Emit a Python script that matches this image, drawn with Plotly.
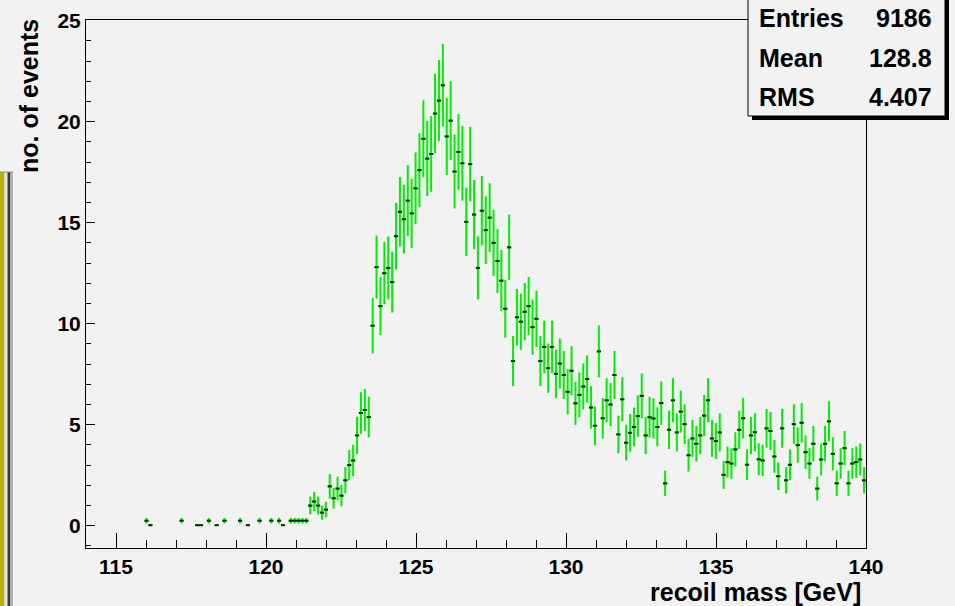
import plotly.graph_objects as go

# ---------------- data ----------------
bin_low = 114.0
bin_width = 0.13
counts = [
    0, 0, 0, 0, 0, 0, 0, 0, 0, 0,
    0, 0, 0, 0, 0, 0.25, 0.03, 0, 0, 0,
    0, 0, 0, 0, 0.25, 0, 0, 0, 0.03, 0.03,
    0, 0.25, 0, 0.03, 0, 0.25, 0, 0, 0, 0.25,
    0, 0.03, 0, 0, 0.25, 0, 0, 0.25, 0, 0.25,
    0.03, 0, 0.25, 0.25, 0.25, 0.25, 0.25, 1.0, 1.2, 1.0,
    0.65, 0.8, 1.95, 1.36, 1.84, 1.49, 2.25, 3.0, 3.23, 4.47,
    5.58, 5.73, 5.38, 9.9, 12.8, 10.87, 12.5, 12.76, 12.06, 14.33,
    15.54, 15.17, 16.09, 15.46, 16.7, 17.6, 19.15, 18.17, 18.4, 20.4,
    21.04, 21.8, 19.27, 20.05, 17.53, 18.5, 17.94, 15.04, 17.9, 15.4,
    12.76, 15.59, 14.63, 15.25, 14.0, 13.1, 12.13, 10.74, 13.78, 8.15,
    10.32, 10.1, 10.59, 10.87, 9.83, 10.24, 8.15, 8.85, 7.8, 8.85,
    7.52, 8.03, 7.46, 6.63, 7.67, 6.06, 6.48, 6.89, 7.26, 5.85,
    4.95, 8.63, 5.32, 6.21, 6.0, 7.46, 4.52, 6.26, 4.11, 4.6,
    4.89, 5.43, 6.43, 4.47, 5.37, 5.31, 4.89, 6.07, 2.1, 4.75,
    6.21, 4.62, 5.65, 5.03, 3.49, 4.32, 4.06, 4.47, 5.45, 6.21,
    4.32, 4.19, 4.62, 2.52, 3.15, 3.08, 3.78, 4.75, 5.32, 3.02,
    4.47, 4.63, 3.29, 3.23, 4.82, 4.69, 3.43, 2.45, 4.82, 2.25,
    3.02, 5.03, 3.99, 5.1, 3.64, 3.08, 4.06, 1.84, 3.28, 4.06,
    5.17, 3.56, 2.1, 3.08, 3.84, 2.1, 3.08, 3.15, 3.28, 2.25,
]
errors = [
    0, 0, 0, 0, 0, 0, 0, 0, 0, 0,
    0, 0, 0, 0, 0, 0.14, 0.03, 0, 0, 0,
    0, 0, 0, 0, 0.14, 0, 0, 0, 0.03, 0.03,
    0, 0.14, 0, 0.03, 0, 0.14, 0, 0, 0, 0.14,
    0, 0.03, 0, 0, 0.14, 0, 0, 0.14, 0, 0.14,
    0.03, 0, 0.14, 0.14, 0.14, 0.14, 0.14, 0.44, 0.48, 0.44,
    0.35, 0.39, 0.61, 0.51, 0.59, 0.53, 0.65, 0.75, 0.78, 0.92,
    1.03, 1.04, 1.01, 1.37, 1.56, 1.44, 1.54, 1.56, 1.51, 1.65,
    1.72, 1.70, 1.75, 1.71, 1.78, 1.83, 1.91, 1.86, 1.87, 1.97,
    2.00, 2.04, 1.91, 1.95, 1.83, 1.87, 1.85, 1.69, 1.84, 1.71,
    1.56, 1.72, 1.67, 1.70, 1.63, 1.58, 1.52, 1.43, 1.62, 1.24,
    1.40, 1.39, 1.42, 1.44, 1.37, 1.39, 1.24, 1.30, 1.22, 1.30,
    1.20, 1.24, 1.19, 1.12, 1.21, 1.07, 1.11, 1.14, 1.17, 1.05,
    0.97, 1.28, 1.01, 1.09, 1.07, 1.19, 0.93, 1.09, 0.88, 0.93,
    0.96, 1.02, 1.11, 0.92, 1.01, 1.00, 0.96, 1.07, 0.63, 0.95,
    1.09, 0.94, 1.04, 0.98, 0.81, 0.91, 0.88, 0.92, 1.02, 1.09,
    0.91, 0.89, 0.94, 0.69, 0.77, 0.76, 0.85, 0.95, 1.01, 0.76,
    0.92, 0.94, 0.79, 0.78, 0.96, 0.94, 0.81, 0.68, 0.96, 0.65,
    0.76, 0.98, 0.87, 0.98, 0.83, 0.76, 0.88, 0.59, 0.79, 0.88,
    0.99, 0.82, 0.63, 0.76, 0.85, 0.63, 0.76, 0.77, 0.79, 0.65,
]
x_ticks = [115, 120, 125, 130, 135, 140]
y_ticks = [0, 5, 10, 15, 20, 25]
stats_labels = ["Entries", "Mean", "RMS"]
stats_values = ["9186", "128.8", "4.407"]
x_title = "recoil mass [GeV]"
y_title = "no. of events"

# ---------------- build ----------------
xs, ys, es = [], [], []
for i, (c, e) in enumerate(zip(counts, errors)):
    if c > 0:
        xs.append(bin_low + bin_width * (i + 0.5))
        ys.append(c)
        es.append(e)

W, H = 955, 606
L, R, T, B = 86, 89, 20, 58
PW, PH = W - L - R, H - T - B


def px(x):
    return (x - L) / PW


def py(y):
    return (H - B - y) / PH


BG = "#f2f2f2"
FONT = "Liberation Sans, Arial, sans-serif"
GREEN = "#00ee00"

fig = go.Figure()
fig.add_trace(go.Scatter(
    x=xs, y=ys, mode="markers",
    marker=dict(symbol="line-ew-open", size=3, color="#0b2e0b",
                line=dict(width=2, color="#0b2e0b")),
    error_y=dict(type="data", array=es, visible=True, color=GREEN,
                 thickness=2, width=0),
    error_x=dict(type="constant", value=bin_width / 2, visible=True,
                 color=GREEN, thickness=2, width=0),
    showlegend=False, hoverinfo="skip",
))

axis_common = dict(
    showgrid=False, zeroline=False, showline=True, linecolor="black",
    linewidth=1, mirror=True, ticks="inside", tickcolor="black",
    tickfont=dict(family=FONT, size=21, color="black", weight="bold"),
)
fig.update_xaxes(range=[114, 140], tickvals=x_ticks, ticklen=15,
                 minor=dict(dtick=1, ticks="inside", ticklen=8,
                            tickcolor="black"),
                 **axis_common)
fig.update_yaxes(range=[-1.1, 25.03], tickvals=y_ticks, ticklen=9,
                 minor=dict(dtick=1, ticks="inside", ticklen=5,
                            tickcolor="black"),
                 **axis_common)


def prect(x0, x1, y0, y1, fill, line=None):
    return dict(type="rect", xref="paper", yref="paper",
                x0=px(x0), x1=px(x1), y0=py(y1), y1=py(y0),
                fillcolor=fill, line=line or dict(width=0), layer="above")


shapes = []
# left decoration strip
shapes += [
    prect(0, 4.5, 172, 606, "#b6b20c"),
    prect(4.5, 7.5, 172, 606, "#e6e6d8"),
    prect(7.5, 10.5, 172, 606, "#3a3a3a"),
    prect(10.5, 13, 172, 606, "#b4b4b4"),
    dict(type="line", xref="paper", yref="paper", x0=px(0), x1=px(13),
         y0=py(172), y1=py(172), line=dict(width=1, color="#909090")),
]
# stats box with shadow
shapes += [
    prect(752, 949, -4, 120, "black"),
    prect(748, 945, -4, 116, BG, dict(width=1, color="black")),
]

annotations = []
row_y = [18, 58, 97]
for lab, val, yy in zip(stats_labels, stats_values, row_y):
    annotations.append(dict(x=px(757), y=py(yy), xref="paper", yref="paper",
                            text=lab, showarrow=False, xanchor="left",
                            yanchor="middle",
                            font=dict(family=FONT, size=25, color="black",
                                      weight="bold")))
    annotations.append(dict(x=px(934), y=py(yy), xref="paper", yref="paper",
                            text=val, showarrow=False, xanchor="right",
                            yanchor="middle",
                            font=dict(family=FONT, size=25, color="black",
                                      weight="bold")))
annotations.append(dict(x=px(863), y=py(592), xref="paper", yref="paper",
                        text=x_title, showarrow=False, xanchor="right",
                        yanchor="middle",
                        font=dict(family=FONT, size=25, color="black",
                                  weight="bold")))
annotations.append(dict(x=px(29), y=py(17), xref="paper", yref="paper",
                        text=y_title, showarrow=False, textangle=-90,
                        xanchor="center", yanchor="top",
                        font=dict(family=FONT, size=25, color="black",
                                  weight="bold")))

fig.update_layout(
    width=W, height=H, margin=dict(l=L, r=R, t=T, b=B, autoexpand=False),
    paper_bgcolor=BG, plot_bgcolor=BG,
    shapes=shapes, annotations=annotations,
)
fig.write_html(
    "out.html",
    config={"displayModeBar": False, "staticPlot": True},
    post_script="document.body.style.margin='0';"
                "document.body.style.padding='0';"
                "document.body.style.background='#f2f2f2';",
)
